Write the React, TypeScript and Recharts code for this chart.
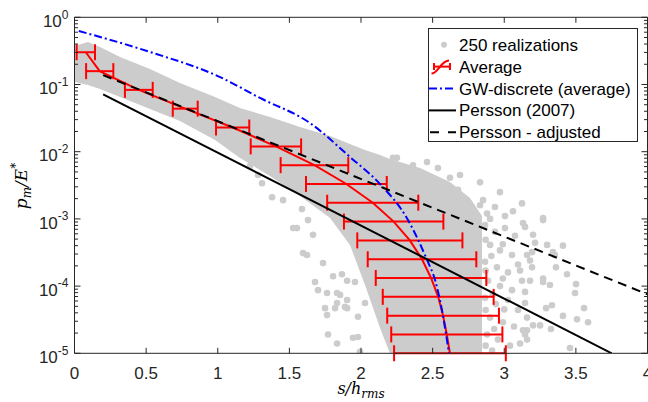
import React from 'react';
import {
  ComposedChart, Area, Line, Scatter, XAxis, YAxis, ErrorBar, ReferenceArea, Legend,
} from 'recharts';

// ---------- data ----------
const xTicks = [0, 0.5, 1, 1.5, 2, 2.5, 3, 3.5, 4];
const yMajorTicks = [1e-5, 1e-4, 1e-3, 1e-2, 1e-1, 1];
const yMinorMantissas = [2, 3, 4, 5, 6, 7, 8, 9];

// dense cloud of the 250 realizations (envelope)
const bandX = [0, 0.094, 0.178, 0.318, 0.527, 0.736, 0.981, 1.155, 1.365, 1.574, 1.784, 1.923, 2.028, 2.133, 2.202, 2.412, 2.621, 2.761, 2.845];
const bandHigh = [0.374, 0.429, 0.361, 0.257, 0.17, 0.105, 0.0652, 0.0447, 0.0328, 0.0233, 0.0171, 0.013, 0.0106, 8.93e-3, 7.79e-3, 5.72e-3, 3.54e-3, 2.05e-3, 1.1e-3];
const bandLow = [0.109, 0.098, 0.0857, 0.0652, 0.0432, 0.0286, 0.0149, 8.06e-3, 4.35e-3, 2.19e-3, 1.03e-3, 4.09e-4, 1.04e-4, 2.38e-5, 1e-5, 1e-5, 1e-5, 1e-5, 1e-5];

// scattered realizations outside the dense cloud
const realizationPoints: [number, number][] = [
  [1.225, 6.1e-3], [1.309, 3.4e-3], [1.281, 4.5e-3], [1.379, 2.1e-3], [1.456, 1.9e-3], [1.588, 1.4e-3],
  [1.63, 9.6e-4], [1.526, 7.3e-4], [1.553, 7.3e-4], [1.595, 3.1e-4], [1.623, 2.9e-4], [1.665, 5.8e-4],
  [1.679, 1.15e-4], [1.7, 8.7e-5], [1.735, 2.2e-4], [1.749, 4.7e-5], [1.763, 7.9e-5], [1.763, 3.7e-5],
  [1.77, 1.9e-5], [1.805, 1.4e-4], [1.819, 4.7e-5], [1.833, 1.4e-5], [1.833, 5.6e-5], [1.833, 7.9e-5],
  [1.854, 7.4e-5], [1.867, 1.5e-4], [1.888, 4.9e-5], [1.903, 6.2e-5], [1.903, 1.2e-4], [1.944, 1.7e-5],
  [1.958, 1.15e-4], [1.979, 1.75e-5], [1.979, 3.5e-5], [1.993, 1.05e-5], [2.028, 5.6e-5], [1.903, 4.7e-5],
  [2.223, 8.1e-3], [2.251, 8.1e-3], [2.363, 6.3e-3], [2.377, 5.3e-3], [2.461, 7.0e-3], [2.537, 5.7e-3],
  [2.691, 4.5e-3], [2.621, 4.1e-3], [2.831, 3.5e-3], [2.677, 2.7e-3], [2.586, 1.9e-3], [2.831, 1.6e-3],
  [2.852, 1.9e-3], [2.88, 1.2e-3], [2.935, 1.5e-3], [3.005, 1.1e-3], [3.061, 1.3e-3], [2.901, 1.0e-3],
  [2.782, 1.07e-3], [2.97, 2.5e-3], [3.124, 1.7e-3], [3.271, 1.03e-3], [3.131, 8.7e-4],
  [2.866, 8.1e-4], [2.935, 6.4e-4], [3.005, 7.3e-4], [3.075, 5.6e-4], [2.901, 4.1e-4], [2.97, 3.4e-4],
  [3.054, 2.9e-4], [2.866, 2.3e-4], [2.949, 1.9e-4], [3.026, 1.6e-4], [3.096, 2.1e-4], [2.887, 1.2e-4],
  [2.97, 1.0e-4], [3.054, 8.7e-5], [2.866, 6.7e-5], [2.942, 5.4e-5], [3.026, 6.2e-5], [3.096, 4.4e-5],
  [2.901, 3.4e-5], [2.991, 2.9e-5], [3.068, 2.5e-5], [2.88, 1.9e-5], [2.956, 1.6e-5], [3.04, 1.3e-5],
  [2.915, 1.1e-5], [2.87, 4.9e-4], [2.87, 1.7e-4], [2.87, 4.4e-5], [2.87, 1.3e-5],
  [2.91, 2.8e-4], [2.92, 7.5e-5], [2.99, 4.2e-4], [2.99, 1.3e-4], [3.0, 4.5e-5], [2.93, 2.3e-5],
  [3.271, 9.6e-4], [3.145, 7.6e-4], [3.201, 5.8e-4], [3.215, 4.4e-4], [3.299, 4.1e-4], [3.41, 4.0e-4],
  [3.159, 2.9e-4], [3.194, 3.2e-4], [3.18, 2.4e-4], [3.34, 3.2e-4], [3.354, 2.9e-4], [3.194, 1.9e-4],
  [3.11, 1.7e-4], [3.124, 1.2e-4], [3.18, 1.2e-4], [3.271, 1.3e-4], [3.271, 1.15e-4], [3.319, 1.04e-4],
  [3.361, 1.9e-4], [3.438, 1.5e-4], [3.501, 1.07e-4], [3.494, 7.9e-5], [3.145, 8.2e-5], [3.145, 5.6e-5],
  [3.292, 4.7e-5], [3.333, 5.2e-5], [3.557, 4.7e-5], [3.41, 3.6e-5], [3.508, 3.2e-5], [3.585, 2.9e-5],
  [3.159, 3.4e-5], [3.201, 2.6e-5], [3.25, 2.6e-5], [3.326, 2.3e-5], [3.131, 2.2e-5], [3.159, 2.2e-5],
  [3.145, 1.9e-5], [3.159, 1.6e-5], [3.11, 1.4e-5], [3.459, 1.2e-5],
];

// average with horizontal spread
const avgP = [0.302, 0.158, 0.0832, 0.0437, 0.0229, 0.012, 6.31e-3, 3.31e-3, 1.74e-3, 9.12e-4, 4.79e-4, 2.51e-4, 1.32e-4, 6.92e-5, 3.63e-5, 1.91e-5, 1e-5];
const avgX = [0.079, 0.176, 0.449, 0.773, 1.104, 1.406, 1.675, 1.898, 2.082, 2.228, 2.341, 2.426, 2.489, 2.539, 2.573, 2.599, 2.621];
const avgErr = [0.064, 0.095, 0.097, 0.087, 0.116, 0.176, 0.236, 0.282, 0.318, 0.347, 0.367, 0.379, 0.386, 0.387, 0.39, 0.388, 0.39];

// GW-discrete (average)
const gwX = [0.03, 0.527, 1.016, 1.295, 1.644, 1.923, 2.133, 2.328, 2.461, 2.517, 2.565, 2.614];
const gwP = [0.625, 0.305, 0.129, 0.063, 0.0267, 8.34e-3, 3.3e-3, 9.63e-4, 2.45e-4, 1.23e-4, 4.41e-5, 1e-5];

// Persson (2007) and adjusted
const perssonX = [0.2, 3.75];
const perssonP = [0.0715, 1e-5];
const adjustedX = [0.2, 4];
const adjustedP = [0.138, 7.55e-5];

// ---------- derived tables ----------
const bandData = bandX.map((x, i) => ({ x, range: [bandLow[i], bandHigh[i]] }));
const dotData = realizationPoints.map(([x, p]) => ({ x, p }));
const avgData = avgX.map((x, i) => ({ x, p: avgP[i], err: avgErr[i] }));
const gwData = gwX.map((x, i) => ({ x, p: gwP[i] }));
const perssonData = perssonX.map((x, i) => ({ x, p: perssonP[i] }));
const adjustedData = adjustedX.map((x, i) => ({ x, p: adjustedP[i] }));
const yTicks = [
  ...yMajorTicks,
  ...yMajorTicks.slice(0, 5).flatMap((d) => yMinorMantissas.map((m) => m * d)),
];

// ---------- layout ----------
const W = 648;
const H = 402;
const PL = 74.5;
const PR = 647.5;
const PT = 17.3;
const PB = 353.3;
const AX = '#262626';
const SANS = '"Liberation Sans", Arial, Helvetica, sans-serif';
const SERIF = '"DejaVu Serif", "Liberation Serif", serif';
const GREY = '#cccccc';

const XTick = (props: any) => {
  const { x, payload } = props;
  return (
    <g>
      <line x1={x} x2={x} y1={PB} y2={PB - 5.5} stroke={AX} strokeWidth={1} />
      <line x1={x} x2={x} y1={PT} y2={PT + 5.5} stroke={AX} strokeWidth={1} />
      <text x={x} y={PB + 25.5} textAnchor="middle" fontSize={17} fontFamily={SANS} fill={AX}>
        {String(payload.value)}
      </text>
    </g>
  );
};

const YTick = (props: any) => {
  const { y, payload } = props;
  const v = payload.value;
  const e = Math.log10(v);
  const major = Math.abs(e - Math.round(e)) < 1e-6;
  const len = major ? 6 : 3.5;
  return (
    <g>
      <line x1={PL} x2={PL + len} y1={y} y2={y} stroke={AX} strokeWidth={1} />
      <line x1={PR} x2={PR - len} y1={y} y2={y} stroke={AX} strokeWidth={1} />
      {major && (
        <text x={68.5} y={y + 9.7} textAnchor="end" fontSize={17} fontFamily={SANS} fill={AX}>
          10
          <tspan dy={-8.5} fontSize={12}>{String(Math.round(e))}</tspan>
        </text>
      )}
    </g>
  );
};

const XTitle = () => (
  <text x={361} y={394} textAnchor="middle" fontSize={16} fontFamily={SERIF} fontStyle="italic" fill="#000">
    s/h<tspan fontSize={12} dy={3.5}>rms</tspan>
  </text>
);

const GreyDot = (props: any) => {
  const { cx, cy } = props;
  if (cx == null || cy == null) return <g />;
  return <circle cx={cx} cy={cy} r={3.3} fill={GREY} />;
};

const NoShape = () => <g />;

const legendRows = ['250 realizations', 'Average', 'GW-discrete (average)', 'Persson (2007)', 'Persson - adjusted'];

const LegendBox = () => {
  const rowY = [15.7, 37.6, 59.5, 81.4, 103.3];
  return (
    <div
      style={{
        width: 210,
        height: 114,
        border: `1px solid ${AX}`,
        background: '#fff',
        boxSizing: 'border-box',
      }}
    >
      <svg width={208} height={112} style={{ display: 'block', overflow: 'visible' }}>
        <circle cx={15} cy={rowY[0]} r={3} fill={GREY} />
        <path
          d={`M2.5 ${rowY[1] + 7} C 9 ${rowY[1] + 7}, 12 ${rowY[1] - 6}, 20 ${rowY[1] - 6}`}
          fill="none"
          stroke="#ff0000"
          strokeWidth={2}
        />
        <line x1={5} x2={21} y1={rowY[1]} y2={rowY[1]} stroke="#ff0000" strokeWidth={2} />
        <line x1={5} x2={5} y1={rowY[1] - 3.5} y2={rowY[1] + 3.5} stroke="#ff0000" strokeWidth={2} />
        <line x1={21} x2={21} y1={rowY[1] - 3.5} y2={rowY[1] + 3.5} stroke="#ff0000" strokeWidth={2} />
        <line x1={0} x2={27} y1={rowY[2]} y2={rowY[2]} stroke="#0000ff" strokeWidth={2} strokeDasharray="8 3 2 3" />
        <line x1={0} x2={27} y1={rowY[3]} y2={rowY[3]} stroke="#000" strokeWidth={2} />
        <line x1={0} x2={27} y1={rowY[4]} y2={rowY[4]} stroke="#000" strokeWidth={2} strokeDasharray="9 9" strokeDashoffset={-1} />
        {legendRows.map((t, i) => (
          <text key={t} x={30} y={rowY[i] + 6} fontSize={17} fontFamily={SANS} fill="#000">
            {t}
          </text>
        ))}
      </svg>
    </div>
  );
};

export default function App() {
  return (
    <div style={{ position: 'absolute', left: 0, top: 0, width: W, height: H, background: '#fff' }}>
      <ComposedChart
        width={W}
        height={H}
        data={bandData}
        margin={{ top: PT, right: W - PR, bottom: 0, left: 0 }}
      >
        <XAxis
          dataKey="x"
          type="number"
          domain={[0, 4]}
          ticks={xTicks}
          interval={0}
          allowDataOverflow
          axisLine={false}
          tickLine={false}
          height={H - PB}
          tick={<XTick />}
          label={<XTitle />}
        />
        <YAxis
          type="number"
          scale="log"
          domain={[1e-5, 1]}
          ticks={yTicks}
          interval={0}
          allowDataOverflow
          axisLine={false}
          tickLine={false}
          width={PL}
          tick={<YTick />}
        />
        <Area
          dataKey="range"
          type="linear"
          stroke="none"
          fill={GREY}
          fillOpacity={1}
          isAnimationActive={false}
          zIndex={100}
        />
        <Scatter data={dotData} dataKey="p" shape={<GreyDot />} fill={GREY} isAnimationActive={false} zIndex={110} />
        <Scatter
          data={avgData}
          dataKey="p"
          shape={<NoShape />}
          fill="#ff0000"
          line={{ stroke: '#ff0000', strokeWidth: 2 }}
          lineType="joint"
          isAnimationActive={false}
          zIndex={420}
        >
          <ErrorBar dataKey="err" direction="x" width={8} strokeWidth={2} stroke="#ff0000" isAnimationActive={false} />
        </Scatter>
        <Line
          data={gwData}
          dataKey="p"
          type="monotone"
          stroke="#0000ff"
          strokeWidth={2}
          strokeDasharray="8 3 2 3"
          dot={false}
          isAnimationActive={false}
          zIndex={430}
        />
        <Line
          data={perssonData}
          dataKey="p"
          type="linear"
          stroke="#000"
          strokeWidth={2}
          dot={false}
          isAnimationActive={false}
          zIndex={440}
        />
        <Line
          data={adjustedData}
          dataKey="p"
          type="linear"
          stroke="#000"
          strokeWidth={2}
          strokeDasharray="9 6"
          dot={false}
          isAnimationActive={false}
          zIndex={450}
        />
        <ReferenceArea x1={0} x2={4} y1={1e-5} y2={1} fill="none" stroke={AX} strokeWidth={1} ifOverflow="visible" zIndex={900} />
        <Legend
          layout="vertical"
          align="center"
          verticalAlign="middle"
          content={<LegendBox />}
          wrapperStyle={{ position: 'absolute', left: 428, top: 28, width: 210, height: 114 }}
        />
      </ComposedChart>
      <svg width={40} height={H} style={{ position: 'absolute', left: 0, top: 0, pointerEvents: 'none' }}>
        <text
          transform="translate(27 186) rotate(-90)"
          textAnchor="middle"
          fontSize={17}
          fontFamily={SERIF}
          fontStyle="italic"
          fill="#000"
        >
          p<tspan fontSize={12} dy={3.5}>m</tspan>
          <tspan dy={-3.5}>/E</tspan>
          <tspan fontSize={12} dy={-7}>*</tspan>
        </text>
      </svg>
    </div>
  );
}
